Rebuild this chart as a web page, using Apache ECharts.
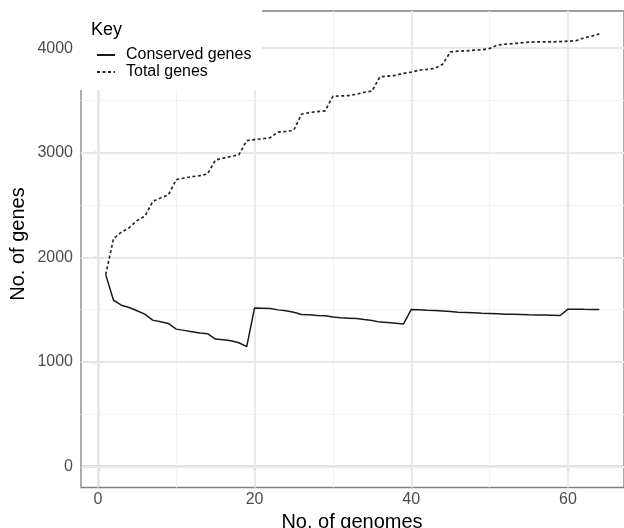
<!DOCTYPE html>
<html>
<head>
<meta charset="utf-8">
<style>html,body{margin:0;padding:0;background:#fff;}#c{width:624px;height:528px;}</style>
<script src="https://cdn.jsdelivr.net/npm/echarts@6/dist/echarts.min.js"></script>
</head>
<body>
<div id="c"></div>
<script>
var genomes = [1,2,3,4,5,6,7,8,9,10,11,12,13,14,15,16,17,18,19,20,21,22,23,24,25,26,27,28,29,30,31,32,33,34,35,36,37,38,39,40,41,42,43,44,45,46,47,48,49,50,51,52,53,54,55,56,57,58,59,60,61,62,63,64];
var conserved = [1835,1590,1543,1521,1489,1457,1400,1384,1368,1314,1302,1289,1276,1270,1219,1213,1203,1184,1146,
  1517,1514,1511,1498,1489,1476,1454,1451,1445,1441,1429,1422,1419,1416,1406,1397,1381,1378,1371,1362,
  1502,1499,1495,1492,1488,1482,1476,1473,1470,1466,1463,1460,1457,1455,1453,1451,1450,1448,1446,1444,
  1505,1505,1503,1502,1502];
var total = [1835,2180,2241,2283,2352,2393,2533,2568,2597,2743,
  2759,2771,2781,2797,2930,2949,2965,2981,3115,3126,
  3133,3145,3197,3203,3216,3368,3384,3394,3400,3540,
  3543,3546,3559,3578,3590,3727,3733,3740,3759,3771,
  3790,3797,3806,3845,3965,3971,3974,3981,3984,3997,
  4029,4038,4044,4051,4057,4060,4060,4060,4063,4067,
  4070,4098,4114,4136];
var xTicks = [0,20,40,60];
var xMinor = [10,30,50];
var yTicks = [0,1000,2000,3000,4000];
var yMinor = [500,1500,2500,3500];

function pairs(xs, ys){ return xs.map(function(x,i){ return [x, ys[i]]; }); }

var FONT = '"Liberation Sans", Arial, Helvetica, sans-serif';
var chart = echarts.init(document.getElementById('c'), null, {renderer:'canvas'});

var gridLines = [];
yMinor.forEach(function(v){ gridLines.push({yAxis:v, lineStyle:{color:'#f2f2f2', width:1.1, type:'solid'}}); });
xMinor.forEach(function(v){ gridLines.push({xAxis:v, lineStyle:{color:'#f2f2f2', width:1.1, type:'solid'}}); });
yTicks.forEach(function(v){ gridLines.push({yAxis:v, lineStyle:{color:'#e8e8e8', width:1.9, type:'solid'}}); });
xTicks.forEach(function(v){ gridLines.push({xAxis:v, lineStyle:{color:'#e8e8e8', width:1.9, type:'solid'}}); });

chart.setOption({
  animation:false,
  backgroundColor:'#fff',
  grid:{left:81, top:11, width:549.5, height:476.5, show:true, borderColor:'#808080', borderWidth:1.3, backgroundColor:'transparent'},
  xAxis:{type:'value', min:-2.15, max:67.15,
    axisLine:{show:true, lineStyle:{color:'#808080', width:1.3}},
    axisTick:{show:true, length:4, customValues:xTicks, lineStyle:{color:'#808080', width:1.3}},
    axisLabel:{customValues:xTicks, color:'#4d4d4d', fontSize:16, fontFamily:FONT, margin:4,
      formatter:function(v){ return String(v); }},
    splitLine:{show:false}},
  yAxis:{type:'value', min:-200, max:4355,
    axisLine:{show:true, lineStyle:{color:'#808080', width:1.3}},
    axisTick:{show:true, length:4, customValues:yTicks, lineStyle:{color:'#808080', width:1.3}},
    axisLabel:{customValues:yTicks, color:'#4d4d4d', fontSize:16, fontFamily:FONT, margin:8,
      formatter:function(v){ return String(v); }},
    splitLine:{show:false}},
  legend:{data:['Conserved genes','Total genes'], orient:'vertical', left:91, top:42, z:20,
    itemWidth:18, itemHeight:12, itemGap:1,
    itemStyle:{opacity:0, borderWidth:0},
    textStyle:{fontSize:16, fontFamily:FONT, color:'#000', padding:[0,0,0,6]}},
  graphic:[
    {type:'rect', z:10, shape:{x:80, y:0, width:182, height:90}, style:{fill:'#fff'}},
    {type:'text', z:20, left:91, top:21, style:{text:'Key', fontSize:18, fontFamily:FONT, fill:'#000'}},
    {type:'text', z:20, x:18, y:244, rotation:Math.PI/2, style:{text:'No. of genes', fontSize:20, fontFamily:FONT, fill:'#000', align:'center', verticalAlign:'middle'}},
    {type:'text', z:20, x:352, y:522, style:{text:'No. of genomes', fontSize:20, fontFamily:FONT, fill:'#000', align:'center', verticalAlign:'middle'}}
  ],
  series:[
    {name:'grid', type:'line', data:[], z:1, silent:true,
     markLine:{silent:true, z:1, symbol:['none','none'], label:{show:false}, data:gridLines, animation:false}},
    {name:'Conserved genes', type:'line', data:pairs(genomes, conserved), showSymbol:false, symbol:'none', z:3,
     lineStyle:{color:'#1a1a1a', width:1.5, type:'solid'}, itemStyle:{color:'#1a1a1a'}},
    {name:'Total genes', type:'line', data:pairs(genomes, total), showSymbol:false, symbol:'none', z:3,
     lineStyle:{color:'#262626', width:1.7, type:[3,2.5]}, itemStyle:{color:'#262626'}}
  ]
});
</script>
</body>
</html>
